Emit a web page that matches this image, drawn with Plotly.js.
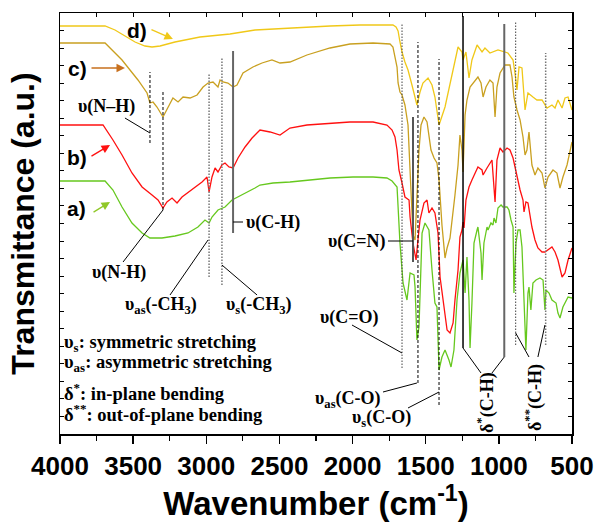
<!DOCTYPE html>
<html>
<head>
<meta charset="utf-8">
<script src="https://cdn.plot.ly/plotly-3.0.1.min.js"></script>
<style>html,body{margin:0;padding:0;background:#fff;}#chart{width:597px;height:522px;}</style>
</head>
<body>
<div id="chart"></div>
<script>
// ---- spectrum a) (green)
const wnA = [4000,3692,3638,3576,3508,3439,3385,3303,3214,3125,3057,3009,2981,2961,2920,2872,2824,2756,2667,2633,2544,2428,2312,2154,1997,1860,1765,1730,1696,1676,1655,1642,1628,1607,1580,1573,1560,1546,1525,1505,1478,1457,1437,1423,1409,1389,1368,1341,1327,1307,1286,1266,1245,1231,1218,1204,1197,1184,1170,1149,1143,1122,1115,1102,1081,1074,1054,1040,1033,1020,1006,985,972,944,931,917,903,897,883,869,855,842,828,815,801,794,781,767,746,719,698,685,678,657,637,609,596,582,562,527,500];
const tA  = [253,253,244,227,211,201,196,196,198,201,207,214,211,217,224,227,234,239,246,249,251,252,254,256,257,257,256,253,247,191,151,144,134,161,159,147,94,107,201,211,204,164,131,127,64,77,84,74,67,84,134,161,174,141,177,134,86,131,191,204,207,181,154,191,207,204,211,209,216,211,226,229,227,227,224,214,207,141,191,204,204,187,134,84,141,147,124,151,154,156,154,124,144,141,134,131,121,116,127,137,136];
// ---- spectrum b) (red)
const wnB = [4000,3706,3638,3576,3508,3439,3371,3330,3296,3269,3234,3200,3166,3098,3029,2995,2981,2961,2940,2920,2893,2872,2845,2817,2783,2735,2687,2633,2564,2496,2428,2312,2154,2018,1860,1765,1730,1710,1696,1683,1662,1642,1614,1607,1587,1573,1566,1553,1539,1512,1491,1478,1457,1437,1416,1402,1389,1368,1354,1334,1313,1300,1279,1266,1252,1245,1238,1225,1204,1184,1163,1143,1115,1108,1081,1061,1047,1026,1013,992,972,944,924,903,876,855,835,828,815,801,774,753,733,705,685,664,637,616,596,568,548,527,500];
const tB  = [309,309,294,279,261,247,239,234,226,232,236,231,237,244,252,257,242,257,266,262,269,271,267,266,276,287,296,304,302,299,306,309,311,312,312,309,304,297,284,264,251,237,234,217,191,177,174,194,214,231,234,221,226,221,201,157,144,121,104,101,111,134,164,197,204,212,206,234,247,254,261,267,264,259,266,271,274,232,274,286,282,286,284,276,257,244,234,222,232,231,207,194,186,182,182,184,187,182,174,157,161,174,186];
// ---- spectrum c) (dark gold)
const wnC = [4000,3692,3576,3467,3405,3385,3364,3337,3296,3262,3228,3193,3159,3111,3063,3022,2988,2954,2920,2906,2886,2852,2817,2790,2749,2681,2619,2551,2496,2428,2312,2154,2018,1860,1744,1724,1696,1689,1676,1662,1642,1621,1607,1587,1573,1560,1546,1532,1512,1491,1478,1464,1443,1423,1409,1389,1368,1354,1334,1320,1300,1279,1266,1252,1245,1231,1218,1197,1163,1143,1122,1108,1088,1061,1040,1026,1013,992,958,924,910,897,876,855,835,821,808,794,774,753,733,705,685,664,630,603,582,562,534,514,500];
const tC  = [391,391,374,354,341,331,332,327,317,327,336,332,337,336,339,347,351,352,347,354,352,351,347,349,361,367,371,374,371,372,379,386,390,391,390,387,367,351,342,339,329,309,264,199,194,234,284,309,317,312,299,284,276,271,254,209,176,186,196,212,239,269,299,284,262,319,334,347,354,357,351,337,347,354,351,317,347,361,369,369,357,337,324,314,297,279,284,302,269,259,266,261,246,257,264,261,246,257,269,282,292];
// ---- spectrum d) (yellow)
const wnD = [4000,3692,3624,3556,3487,3419,3371,3316,3214,3043,2838,2667,2428,2154,1949,1724,1703,1689,1676,1662,1642,1621,1594,1560,1539,1519,1484,1457,1437,1409,1368,1334,1300,1279,1252,1245,1225,1204,1184,1149,1115,1095,1061,1006,938,903,890,876,862,842,821,801,767,740,705,671,637,616,596,568,548,527,500];
const tD  = [408,408,404,398,392,388,387,388,392,397,400,404,406,408,409,409,407,403,392,382,372,364,349,329,342,351,356,349,337,309,327,351,374,387,382,374,382,356,374,389,382,386,381,384,381,374,361,344,367,366,324,341,337,334,334,326,329,326,334,326,336,337,324];

// ---- labels
const sampleLabels = ["a)", "b)", "c)", "d)"];
const bandLabels = ["υ(N–H)", "υ(N-H)", "υ<sub>as</sub>(-CH<sub>3</sub>)", "υ<sub>s</sub>(-CH<sub>3</sub>)", "υ(C-H)", "υ(C=N)", "υ(C=O)", "υ<sub>as</sub>(C-O)", "υ<sub>s</sub>(C-O)", "δ<sup>*</sup>(C-H)", "δ<sup>**</sup>(C-H)"];
const keyLines = ["υ<sub>s</sub>: symmetric stretching", "υ<sub>as</sub>: asymmetric stretching", "δ<sup>*</sup>: in-plane bending", "δ<sup>**</sup>: out-of-plane bending"];
// band marker wavenumbers
const bandWn = [3385, 3296, 2981, 2893, 2817, 1662, 1587, 1553, 1409, 1245, 963, 885, 680];

const COL = {a:'#66C81E', b:'#FF1010', c:'#C9A020', d:'#F0C818'};

const traces = [
  {x: wnD, y: tD, mode:'lines', line:{color:COL.d, width:1.3}},
  {x: wnC, y: tC, mode:'lines', line:{color:COL.c, width:1.3}},
  {x: wnB, y: tB, mode:'lines', line:{color:COL.b, width:1.3}},
  {x: wnA, y: tA, mode:'lines', line:{color:COL.a, width:1.3}},
  {x: [4000], y: [0], xaxis:'x2', mode:'markers', marker:{opacity:0}, hoverinfo:'skip'}
];

const DASH = '3px,2px';
const DOT = '1.5px,1.5px';
function vline(x, y0, y1, color, width, dash){
  return {type:'line', xref:'x', yref:'y', x0:x, x1:x, y0:y0, y1:y1, line:{color:color, width:width, dash:dash}};
}
function seg(x0, y0, x1, y1){
  return {type:'line', xref:'x', yref:'y', x0:x0, x1:x1, y0:y0, y1:y1, line:{color:'#000', width:1}};
}
const shapes = [
  vline(bandWn[0], 291, 362, '#000', 1, DASH),
  vline(bandWn[1], 224, 343, '#000', 1, DASH),
  vline(bandWn[2], 157, 361, '#777', 1.5, DOT),
  vline(bandWn[3], 149, 376, '#777', 1.5, DOT),
  vline(bandWn[4], 201, 383, '#666', 2, 'solid'),
  vline(bandWn[5], 66, 411, '#444', 1, DOT),
  vline(bandWn[6], 172, 317, '#555', 2, 'solid'),
  vline(bandWn[7], 51, 392, '#000', 1, DASH),
  vline(bandWn[8], 29, 375, '#000', 1, DASH),
  vline(bandWn[9], 86, 418, '#000', 1.5, 'solid'),
  vline(bandWn[10], 77, 410, '#666', 2, 'solid'),
  vline(bandWn[11], 89, 412, '#444', 1, DOT),
  vline(bandWn[12], 89, 381, '#777', 1.5, DOT),
  seg(3556, 316, 3385, 301),
  seg(3296, 224, 3569, 172),
  seg(2988, 194, 3248, 139),
  seg(2893, 169, 2653, 139),
  seg(2817, 212, 2749, 212),
  seg(1758, 193, 1587, 193),
  seg(2004, 109, 1662, 81),
  seg(1792, 42, 1560, 51),
  seg(1621, 26, 1409, 42),
  seg(1245, 86, 1122, 61),
  seg(963, 77, 1047, 61),
  seg(885, 101, 794, 77),
  seg(685, 109, 733, 77)
];

const serif = {family:'Liberation Serif, Times New Roman, serif', size:18, color:'#000', weight:'bold'};
const serifKey = {family:'Liberation Serif, Times New Roman, serif', size:18.5, color:'#000', weight:'bold'};
function lab(text, x, y, xanchor, angle, font){
  return {text:text, x:x, y:y, xref:'x', yref:'y', showarrow:false, font:font||serif, xanchor:xanchor||'center', yanchor:'middle', textangle:angle||0};
}
function arrow(x, y, ax, ay, color){
  return {text:'', x:x, y:y, ax:ax, ay:ay, xref:'x', yref:'y', axref:'x', ayref:'y', showarrow:true, arrowhead:2, arrowsize:1.3, arrowwidth:1.3, arrowcolor:color};
}
const sansBig = {family:'Liberation Sans, Arial, sans-serif', size:21, color:'#000', weight:'bold'};
function samp(text, x, y){
  return {text:text, x:x, y:y, xref:'x', yref:'y', showarrow:false, font:sansBig, xanchor:'center', yanchor:'middle'};
}
const annotations = [
  samp(sampleLabels[3], 3474, 404),
  samp(sampleLabels[2], 3877, 366),
  samp(sampleLabels[1], 3884, 277),
  samp(sampleLabels[0], 3884, 226),
  arrow(3228, 395, 3385, 405, COL.d),
  arrow(3556, 366, 3795, 366, '#C8701E'),
  arrow(3658, 289, 3795, 277, COL.b),
  arrow(3658, 232, 3781, 221, '#90C828'),
  lab(bandLabels[0], 3679, 328),
  lab(bandLabels[1], 3597, 162),
  lab(bandLabels[2], 3310, 129),
  lab(bandLabels[3], 2640, 129),
  lab(bandLabels[4], 2745, 212, 'left'),
  lab(bandLabels[5], 1758, 193, 'right'),
  lab(bandLabels[6], 2024, 117),
  lab(bandLabels[7], 2031, 35),
  lab(bandLabels[8], 1799, 16),
  lab(bandLabels[9], 1088, 32, 'center', -90),
  lab(bandLabels[10], 760, 37, 'center', -90),
  lab(keyLines[0], 3986, 91, 'left', 0, serifKey),
  lab(keyLines[1], 3986, 71, 'left', 0, serifKey),
  lab(keyLines[2], 3986, 42, 'left', 0, serifKey),
  lab(keyLines[3], 3986, 21, 'left', 0, serifKey)
];

const layout = {
  width:597, height:522,
  margin:{l:60, r:25, t:13, b:88},
  paper_bgcolor:'#fff', plot_bgcolor:'#fff',
  showlegend:false,
  font:{family:'Liberation Sans, Arial, sans-serif', color:'#000'},
  xaxis:{
    range:[4000,500], autorange:false, tickmode:'linear', tick0:0, dtick:500,
    ticks:'outside', ticklen:8, tickwidth:1.5, tickcolor:'#000',
    minor:{dtick:250, ticks:'outside', ticklen:5, tickwidth:1.2, tickcolor:'#000'},
    tickfont:{family:'Liberation Sans, Arial, sans-serif', size:26, color:'#000', weight:'bold'},
    showline:true, linewidth:1.5, linecolor:'#000', mirror:true,
    showgrid:false, zeroline:false,
    title:{text:'Wavenumber (cm<sup>-1</sup>)', font:{family:'Liberation Sans, Arial, sans-serif', size:33, color:'#000', weight:'bold'}, standoff:6}
  },
  xaxis2:{
    overlaying:'x', side:'top', range:[4000,500], autorange:false, tickmode:'linear', tick0:0, dtick:250,
    ticks:'inside', ticklen:4, tickwidth:1, tickcolor:'#000', showticklabels:false,
    showline:false, showgrid:false, zeroline:false
  },
  yaxis:{
    range:[0,421], autorange:false, tickmode:'linear', tick0:0, dtick:421/24,
    ticks:'inside', ticklen:4, tickwidth:1, tickcolor:'#000', showticklabels:false,
    showline:true, linewidth:1.5, linecolor:'#000', mirror:'ticks',
    showgrid:false, zeroline:false,
    title:{text:'Transmittance (a.u.)', font:{family:'Liberation Sans, Arial, sans-serif', size:32, color:'#000', weight:'bold'}, standoff:14}
  },
  shapes:shapes,
  annotations:annotations
};

Plotly.newPlot('chart', traces, layout, {displayModeBar:false, staticPlot:true});
</script>
</body>
</html>
